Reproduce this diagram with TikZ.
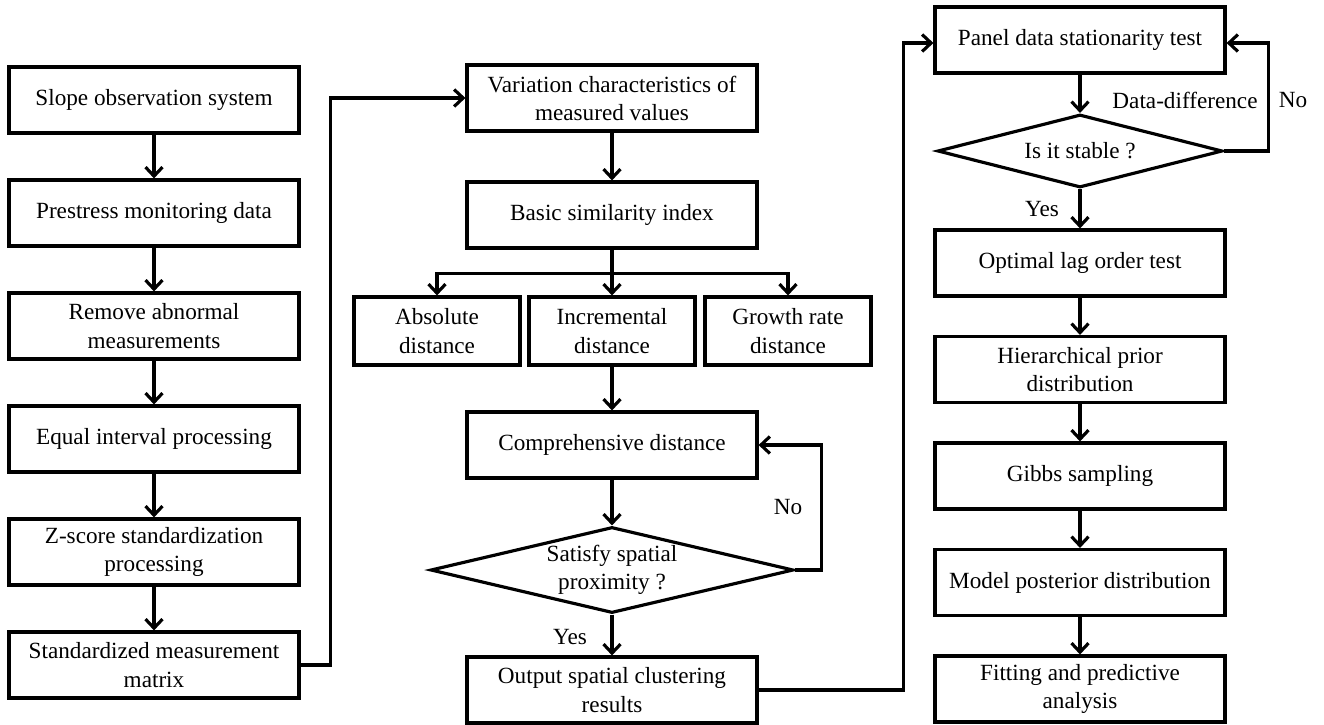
\documentclass[tikz,border=0pt]{standalone}
\usepackage{fontspec}
\setmainfont{Liberation Serif}
\usepackage{tikz}
\usetikzlibrary{shapes.geometric, arrows}
\usetikzlibrary{arrows.meta}
\tikzstyle{process} = [rectangle, minimum width=5.8cm, minimum height=1.32cm, text centered, draw=black, line width=1.8pt, align=center, font=\fontsize{13.2}{16}\selectfont]
\tikzstyle{small} = [process, minimum width=3.32cm, minimum height=1.36cm]
\tikzstyle{decision} = [diamond, draw=black, line width=1.8pt, inner sep=0pt, align=center, font=\fontsize{13.2}{16}\selectfont]
\tikzstyle{arrow} = [line width=1.8pt, -{Straight Barb[length=1.8mm, width=3.4mm]}]
\tikzstyle{line} = [line width=1.8pt]
\tikzstyle{lbl} = [font=\fontsize{13.2}{16}\selectfont]

\begin{document}
\begin{tikzpicture}[node distance=2.26cm]
                        \useasboundingbox (0,0) rectangle (26.48,-14.48);

                        % left column
                        \node (slope) [process] at (3.08,-2.0) {Slope observation system};
                        \node (pre) [process, below of=slope] {Prestress monitoring data};
                        \node (rem) [process, below of=pre] {Remove abnormal\\measurements};
                        \node (equ) [process, below of=rem] {Equal interval processing};
                        \node (zsc) [process, below of=equ] {Z-score standardization\\processing};
                        \node (std) [process, below of=zsc] {Standardized measurement\\matrix};

                        % middle column
                        \node (var) [process] at (12.24,-1.96) {Variation characteristics of\\measured values};
                        \node (bas) [process, below of=var, node distance=2.34cm] {Basic similarity index};
                        \node (inc) [small, below of=bas, node distance=2.32cm] {Incremental\\distance};
                        \node (abs) [small, left of=inc, node distance=3.5cm] {Absolute\\distance};
                        \node (gro) [small, right of=inc, node distance=3.52cm] {Growth rate\\distance};
                        \node (com) [process, below of=inc, node distance=2.28cm] {Comprehensive distance};
                        \node (sat) [decision, below of=com, node distance=2.5cm, shape aspect=4.2, minimum width=7.26cm, minimum height=1.72cm] {Satisfy spatial\\proximity ?};
                        \node (out) [process, below of=sat, node distance=2.4cm] {Output spatial clustering\\results};

                        % right column
                        \node (pan) [process] at (21.6,-0.8) {Panel data stationarity test};
                        \node (sta) [decision, below of=pan, node distance=2.22cm, shape aspect=3.9, minimum width=5.7cm, minimum height=1.46cm] {Is it stable ?};
                        \node (lag) [process, below of=sta, node distance=2.24cm] {Optimal lag order test};
                        \node (hie) [process, below of=lag, node distance=2.13cm] {Hierarchical prior\\distribution};
                        \node (gib) [process, below of=hie, node distance=2.13cm] {Gibbs sampling};
                        \node (mod) [process, below of=gib, node distance=2.13cm] {Model posterior distribution};
                        \node (fit) [process, below of=mod, node distance=2.13cm] {Fitting and predictive\\analysis};

                        \draw [arrow] (slope) -- (pre);
                        \draw [arrow] (pre) -- (rem);
                        \draw [arrow] (rem) -- (equ);
                        \draw [arrow] (equ) -- (zsc);
                        \draw [arrow] (zsc) -- (std);
                        \draw [arrow] (std.east) -- ++(0.6,0) |- (var.west);

                        \draw [arrow] (var) -- (bas);
                        \draw [line] (bas.south) -- ++(0,-0.48) coordinate (fork);
                        \draw [arrow] (fork) -| (abs.north);
                        \draw [arrow] (fork) -- (inc.north);
                        \draw [arrow] (fork) -| (gro.north);
                        \draw [arrow] (inc) -- (com);
                        \draw [arrow] (com) -- (sat);
                        \draw [arrow] (sat.east) -- ++(0.52,0) |- (com.east);
                        \draw [arrow] (sat) -- (out);
                        \draw [arrow] (out.east) -- ++(2.9,0) |- ([yshift=-0.06cm]pan.west);

                        \draw [arrow] (pan) -- (sta);
                        \draw [arrow] (sta.east) -- ++(0.88,0) |- ([yshift=-0.06cm]pan.east);
                        \draw [arrow] (sta) -- (lag);
                        \draw [arrow] (lag) -- (hie);
                        \draw [arrow] (hie) -- (gib);
                        \draw [arrow] (gib) -- (mod);
                        \draw [arrow] (mod) -- (fit);

                        % labels
                        \node (no1) [lbl] at (15.76,-10.14) {No};
                        \node (yes1) [lbl] at (11.4,-12.74) {Yes};
                        \node (dd) [lbl] at (23.7,-2.0) {Data-difference};
                        \node (no2) [lbl] at (25.86,-2.0) {No};
                        \node (yes2) [lbl] at (20.84,-4.18) {Yes};
                    \end{tikzpicture}
\end{document}
